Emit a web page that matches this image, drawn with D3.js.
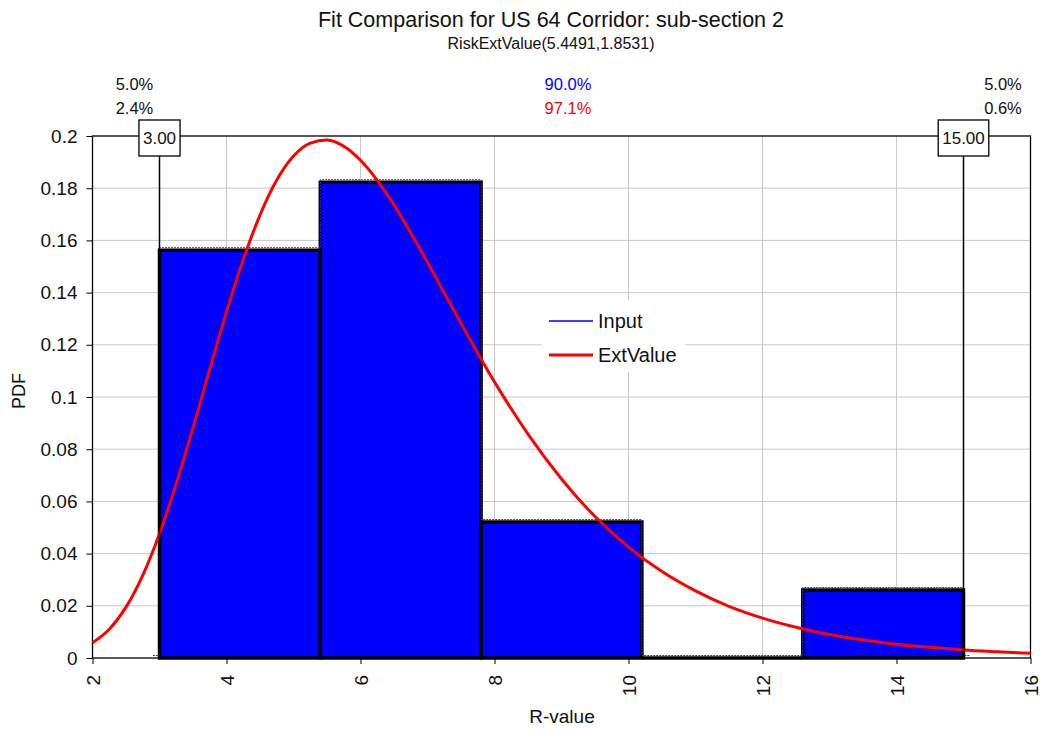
<!DOCTYPE html>
<html>
<head>
<meta charset="utf-8">
<script src="https://cdn.jsdelivr.net/npm/d3@7"></script>
<style>
  body { margin: 0; background: #fff; }
  svg { display: block; font-family: "Liberation Sans", Arial, sans-serif; }
</style>
</head>
<body>
<svg id="chart" width="1046" height="732"></svg>
<script>
// ---- data ----
const binEdges = [3.0, 5.4, 7.8, 10.2, 12.6, 15.0];
const binDensity = [0.15625, 0.18229, 0.05208, 0.0, 0.02604];
const fitX = [2, 2.25, 2.5, 2.75, 3, 3.25, 3.5, 3.75, 4, 4.25, 4.5, 4.75, 5, 5.25, 5.5, 5.75,
  6, 6.25, 6.5, 6.75, 7, 7.25, 7.5, 7.75, 8, 8.5, 9, 9.5, 10, 10.5, 11, 11.5, 12, 12.5,
  13, 13.5, 14, 14.5, 15, 15.5, 16];
const fitY = [0.0058, 0.0110, 0.0195, 0.0317, 0.0476, 0.0668, 0.0882, 0.1106, 0.1326, 0.1526,
  0.1697, 0.1831, 0.1923, 0.1973, 0.1985, 0.1961, 0.1907, 0.1830, 0.1736, 0.1629, 0.1516,
  0.1399, 0.1282, 0.1168, 0.1058, 0.0858, 0.0686, 0.0542, 0.0425, 0.0331, 0.0257, 0.0198,
  0.0153, 0.0118, 0.0090, 0.0069, 0.0053, 0.0041, 0.0031, 0.0024, 0.0018];
const xTicks = [2, 4, 6, 8, 10, 12, 14, 16];
const yTicks = [0, 0.02, 0.04, 0.06, 0.08, 0.1, 0.12, 0.14, 0.16, 0.18, 0.2];
const markers = [{v: 3, label: "3.00"}, {v: 15, label: "15.00"}];
const leftPct = ["5.0%", "2.4%"];
const midPct = ["90.0%", "97.1%"];
const rightPct = ["5.0%", "0.6%"];
const titleText = "Fit Comparison for US 64 Corridor: sub-section 2";
const subtitleText = "RiskExtValue(5.4491,1.8531)";
const legendItems = [{name: "Input", color: "#0000ff", w: 1.5}, {name: "ExtValue", color: "#ff0000", w: 3}];

// ---- layout ----
const svg = d3.select("#chart");
const L = 92.5, R = 1030.5, T = 136, B = 658;
const x = d3.scaleLinear().domain([2, 16]).range([L, R]);
const y = d3.scaleLinear().domain([0, 0.2]).range([B, T]);
const FONT = "Liberation Sans, Arial, sans-serif";

// gridlines
const g = svg.append("g");
g.selectAll("line.hg").data(yTicks.filter(d => d > 0 && d < 0.2)).join("line")
  .attr("x1", L).attr("x2", R).attr("y1", d => y(d)).attr("y2", d => y(d))
  .attr("stroke", "#c8c8c8").attr("stroke-width", 1);
g.selectAll("line.vg").data(xTicks.filter(d => d > 2 && d < 16)).join("line")
  .attr("y1", T).attr("y2", B).attr("x1", d => x(d)).attr("x2", d => x(d))
  .attr("stroke", "#c8c8c8").attr("stroke-width", 1);

// histogram bars
const bins = binDensity.map((d, i) => ({x0: binEdges[i], x1: binEdges[i + 1], v: d}));
svg.append("g").selectAll("rect").data(bins).join("rect")
  .attr("x", d => x(d.x0)).attr("width", d => x(d.x1) - x(d.x0))
  .attr("y", d => y(d.v)).attr("height", d => y(0) - y(d.v))
  .attr("fill", "#0000ff");
svg.append("g").selectAll("path").data(bins).join("path")
  .attr("d", d => `M${x(d.x0)},${y(0)}V${y(d.v)}H${x(d.x1)}V${y(0)}Z`)
  .attr("fill", "none").attr("stroke", "#000").attr("stroke-width", 3.5)
  .attr("stroke-linejoin", "miter");

// input step outline (blue thin)
const stepPts = [[2.9, 0], [binEdges[0], 0]];
bins.forEach(b => { stepPts.push([b.x0, b.v]); stepPts.push([b.x1, b.v]); });
stepPts.push([binEdges[binEdges.length - 1], 0]);
stepPts.push([15.1, 0]);
svg.append("path")
  .attr("d", d3.line().x(d => x(d[0])).y(d => y(d[1]) - 2.5)(stepPts))
  .attr("fill", "none").attr("stroke", "#2a2aff").attr("stroke-width", 1)
  .attr("stroke-dasharray", "2,1");

// plot frame
svg.append("rect").attr("x", L).attr("y", T).attr("width", R - L).attr("height", B - T)
  .attr("fill", "none").attr("stroke", "#000").attr("stroke-width", 1.3);

// fitted curve
svg.append("path")
  .attr("d", d3.line().x((d, i) => x(fitX[i])).y(d => y(d)).curve(d3.curveMonotoneX)(fitY))
  .attr("fill", "none").attr("stroke", "#ff0000").attr("stroke-width", 3);

// axes
const yAxis = svg.append("g").attr("transform", `translate(${L},0)`)
  .call(d3.axisLeft(y).tickValues(yTicks).tickSize(6).tickPadding(9).tickFormat(d => String(+d.toFixed(2))));
yAxis.select(".domain").remove();
yAxis.selectAll("line").attr("stroke", "#000");
yAxis.selectAll("text").attr("font-size", 19).attr("fill", "#111").attr("font-family", FONT);

const xAxis = svg.append("g").attr("transform", `translate(0,${B})`)
  .call(d3.axisBottom(x).tickValues(xTicks).tickSize(6).tickFormat(d3.format("d")));
xAxis.select(".domain").remove();
xAxis.selectAll("line").attr("stroke", "#000");
xAxis.selectAll("text").attr("font-size", 19).attr("fill", "#111")
  .attr("font-family", FONT)
  .attr("transform", "rotate(-90)").attr("text-anchor", "end")
  .attr("x", -17).attr("y", 0).attr("dy", "0.35em");

// markers
markers.forEach(m => {
  svg.append("line").attr("x1", x(m.v)).attr("x2", x(m.v)).attr("y1", 156).attr("y2", B)
    .attr("stroke", "#000").attr("stroke-width", 1.5);
  const t = svg.append("text").attr("x", x(m.v)).attr("y", 138).attr("text-anchor", "middle")
    .attr("font-size", 17).attr("dy", "0.35em").attr("fill", "#111").text(m.label);
  const bb = t.node().getBBox();
  svg.insert("rect", () => t.node()).attr("x", bb.x - 4).attr("y", 120).attr("width", bb.width + 8).attr("height", 36)
    .attr("fill", "#fff").attr("stroke", "#000").attr("stroke-width", 1.3);
});

// percentage labels
function pct(arr, cx, colors) {
  arr.forEach((s, i) => svg.append("text").attr("x", cx).attr("y", 90 + i * 23.5)
    .attr("text-anchor", "middle").attr("font-size", 16.5).attr("fill", colors[i]).text(s));
}
pct(leftPct, 134.5, ["#111", "#111"]);
pct(midPct, 568, ["#0000ff", "#ff0000"]);
pct(rightPct, 1003, ["#111", "#111"]);

// titles
svg.append("text").attr("x", 551).attr("y", 27).attr("text-anchor", "middle")
  .attr("font-size", 21.5).attr("fill", "#111").text(titleText);
svg.append("text").attr("x", 551).attr("y", 49).attr("text-anchor", "middle")
  .attr("font-size", 16).attr("fill", "#111").text(subtitleText);
svg.append("text").attr("x", 562).attr("y", 723).attr("text-anchor", "middle")
  .attr("font-size", 19).attr("fill", "#111").text("R-value");
svg.append("text").attr("transform", "translate(25,391) rotate(-90)").attr("text-anchor", "middle")
  .attr("font-size", 18).attr("fill", "#111").text("PDF");

// legend
const lg = svg.append("g");
lg.append("rect").attr("x", 542).attr("y", 300).attr("width", 143).attr("height", 72).attr("fill", "#fff");
legendItems.forEach((d, i) => {
  const cy = 321 + i * 34;
  lg.append("line").attr("x1", 549).attr("x2", 593).attr("y1", cy).attr("y2", cy)
    .attr("stroke", d.color).attr("stroke-width", d.w);
  lg.append("text").attr("x", 598).attr("y", cy).attr("dy", "0.35em")
    .attr("font-size", 20).attr("fill", "#111").text(d.name);
});
</script>
</body>
</html>
